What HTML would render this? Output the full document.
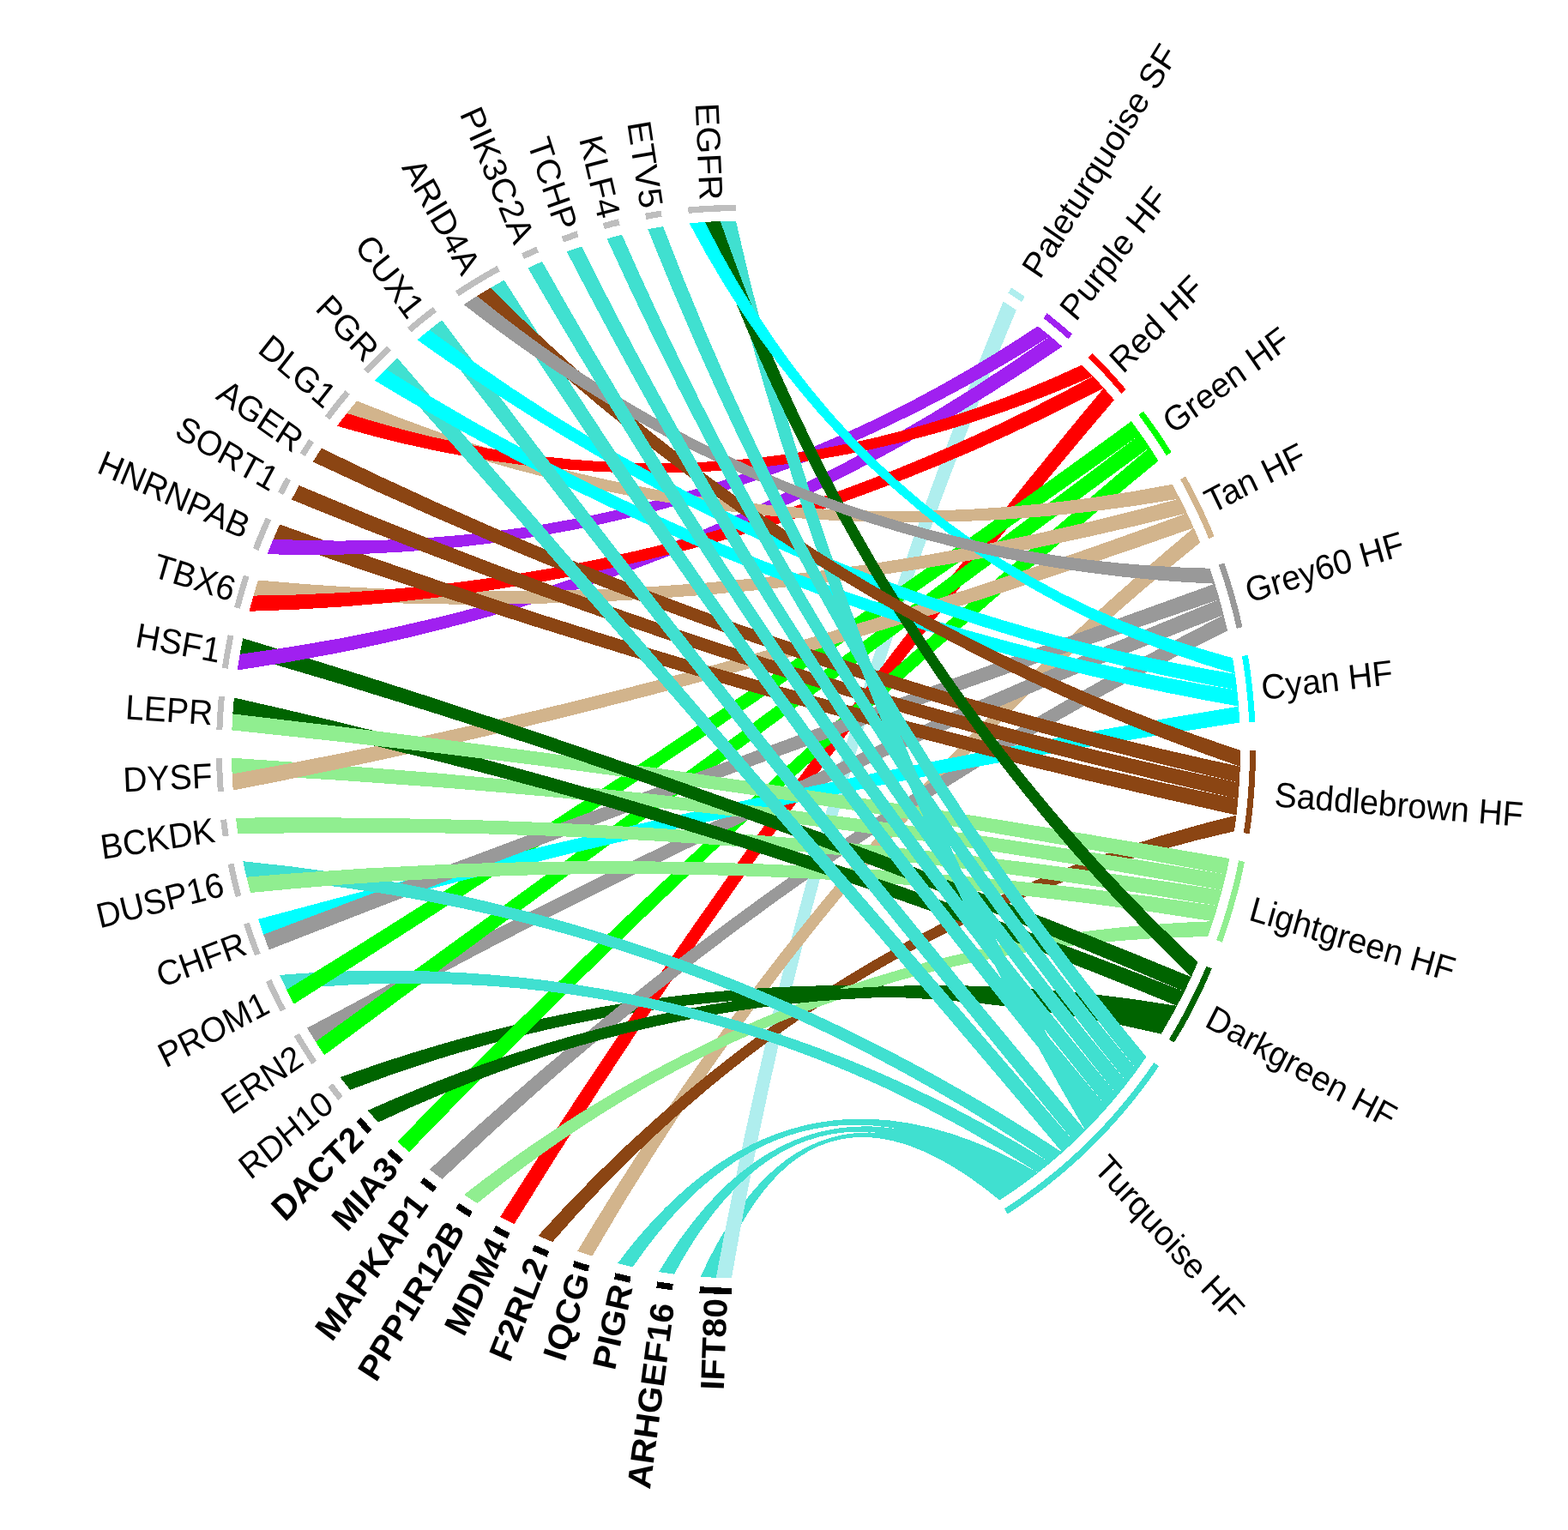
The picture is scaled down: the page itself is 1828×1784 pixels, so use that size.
<!DOCTYPE html>
<html><head><meta charset="utf-8"><title>Chord diagram</title>
<style>html,body{margin:0;padding:0;background:#fff}svg{display:block}text{font-family:"Liberation Sans",Arial,Helvetica,sans-serif;font-size:39px;fill:#000}.b{font-weight:bold}</style></head><body>
<svg xmlns="http://www.w3.org/2000/svg" width="1828" height="1784" viewBox="0 0 1828 1784">
<rect width="1828" height="1784" fill="#fff"/>
<g shape-rendering="crispEdges" stroke-width="0" stroke-linejoin="round">
<path d="M834.8,1489.7 Q943.2,1216.3 1165.2,1399.4 L1167.8,1397.8 L1170.4,1396.1 L1172.9,1394.4 L1175.5,1392.7 L1178.0,1391.0 L1180.5,1389.2 Q942.4,1213.0 816.7,1488.7 L819.7,1488.9 L822.7,1489.1 L825.7,1489.3 L828.7,1489.5 L831.7,1489.6 L834.8,1489.7Z" fill="#40E0D0" stroke="#40E0D0"/>
<path d="M852.9,1490.2 Q954.5,905.2 1184.8,361.7 L1182.3,360.0 L1179.8,358.2 L1177.2,356.5 L1174.7,354.8 L1172.1,353.1 L1169.6,351.4 Q944.5,901.9 834.8,1489.7 L837.8,1489.9 L840.8,1490.0 L843.8,1490.0 L846.8,1490.1 L849.8,1490.2 L852.9,1490.2Z" fill="#AFEEEE" stroke="#AFEEEE"/>
<path d="M786.0,1485.6 Q933.2,1212.1 1180.5,1389.2 L1183.0,1387.5 L1185.6,1385.8 L1188.1,1384.0 L1190.6,1382.2 L1193.0,1380.4 L1195.5,1378.6 Q932.3,1208.1 768.1,1483.0 L771.1,1483.5 L774.1,1483.9 L777.0,1484.4 L780.0,1484.8 L783.0,1485.2 L786.0,1485.6Z" fill="#40E0D0" stroke="#40E0D0"/>
<path d="M737.8,1477.2 Q923.2,1206.3 1195.5,1378.6 L1198.0,1376.8 L1200.4,1374.9 L1202.9,1373.1 L1205.3,1371.2 L1207.8,1369.3 L1210.2,1367.5 Q922.3,1201.7 720.1,1473.0 L723.1,1473.8 L726.0,1474.5 L728.9,1475.2 L731.9,1475.9 L734.8,1476.6 L737.8,1477.2Z" fill="#40E0D0" stroke="#40E0D0"/>
<path d="M690.4,1464.7 Q970.0,978.8 1399.1,632.7 L1397.9,629.8 L1396.7,626.9 L1395.4,624.0 L1394.2,621.1 L1393.0,618.2 L1391.7,615.4 Q962.6,971.9 673.1,1459.0 L676.0,1460.0 L678.9,1460.9 L681.7,1461.9 L684.6,1462.8 L687.5,1463.8 L690.4,1464.7Z" fill="#D2B48C" stroke="#D2B48C"/>
<path d="M644.2,1448.0 Q968.1,1074.8 1438.9,969.3 L1439.4,966.2 L1439.8,963.1 L1440.3,959.9 L1440.7,956.8 L1441.1,953.7 L1441.4,950.5 Q963.8,1067.0 627.4,1440.9 L630.2,1442.1 L632.9,1443.3 L635.7,1444.5 L638.5,1445.7 L641.3,1446.9 L644.2,1448.0Z" fill="#8B4513" stroke="#8B4513"/>
<path d="M408.1,1270.8 Q871.7,1092.5 1353.6,1205.6 L1355.3,1202.9 L1356.9,1200.2 L1358.4,1197.5 L1360.0,1194.8 L1361.6,1192.1 L1363.1,1189.4 Q871.1,1083.2 396.7,1256.1 L398.5,1258.5 L400.4,1261.0 L402.3,1263.5 L404.2,1265.9 L406.2,1268.3 L408.1,1270.8Z" fill="#006400" stroke="#006400"/>
<path d="M599.4,1427.4 Q912.7,917.8 1299.0,466.4 L1297.0,464.0 L1295.0,461.7 L1293.0,459.3 L1290.9,457.0 L1288.9,454.7 L1286.8,452.4 Q904.2,911.0 583.2,1418.8 L585.9,1420.3 L588.6,1421.7 L591.3,1423.2 L594.0,1424.6 L596.7,1426.0 L599.4,1427.4Z" fill="#FF0000" stroke="#FF0000"/>
<path d="M556.4,1403.0 Q932.5,1098.1 1408.0,1092.1 L1409.0,1089.1 L1410.1,1086.1 L1411.1,1083.2 L1412.1,1080.2 L1413.1,1077.2 L1414.1,1074.2 Q929.7,1089.8 541.0,1393.0 L543.6,1394.7 L546.1,1396.4 L548.7,1398.1 L551.2,1399.7 L553.8,1401.4 L556.4,1403.0Z" fill="#90EE90" stroke="#90EE90"/>
<path d="M515.5,1374.9 Q927.1,982.7 1431.0,735.5 L1430.3,732.4 L1429.6,729.3 L1428.8,726.3 L1428.1,723.2 L1427.4,720.1 L1426.6,717.1 Q921.5,973.8 501.0,1363.6 L503.4,1365.5 L505.8,1367.4 L508.2,1369.3 L510.6,1371.2 L513.1,1373.1 L515.5,1374.9Z" fill="#999999" stroke="#999999"/>
<path d="M477.0,1343.4 Q891.5,913.8 1350.5,537.4 L1348.9,534.7 L1347.2,532.1 L1345.5,529.5 L1343.8,526.8 L1342.1,524.2 L1340.4,521.6 Q884.3,905.3 463.4,1330.8 L465.6,1333.0 L467.9,1335.1 L470.1,1337.2 L472.4,1339.2 L474.7,1341.3 L477.0,1343.4Z" fill="#00FF00" stroke="#00FF00"/>
<path d="M441.1,1308.6 Q884.5,1099.0 1363.1,1189.4 L1364.7,1186.7 L1366.2,1183.9 L1367.7,1181.2 L1369.2,1178.5 L1370.7,1175.7 L1372.2,1172.9 Q883.4,1090.0 428.5,1294.9 L430.6,1297.2 L432.7,1299.5 L434.8,1301.8 L436.9,1304.1 L439.0,1306.3 L441.1,1308.6Z" fill="#006400" stroke="#006400"/>
<path d="M368.0,1214.6 Q881.6,929.1 1426.6,717.1 L1425.8,714.0 L1425.0,710.9 L1424.2,707.9 L1423.4,704.8 L1422.6,701.8 L1421.7,698.8 Q877.2,918.8 358.2,1198.6 L359.8,1201.3 L361.4,1204.0 L363.0,1206.6 L364.7,1209.3 L366.3,1211.9 L368.0,1214.6Z" fill="#999999" stroke="#999999"/>
<path d="M378.2,1230.2 Q858.8,875.2 1340.4,521.6 L1338.6,519.0 L1336.9,516.5 L1335.1,513.9 L1333.4,511.3 L1331.6,508.8 L1329.8,506.2 Q852.5,865.8 368.0,1214.6 L369.6,1217.2 L371.3,1219.8 L373.0,1222.4 L374.7,1225.1 L376.5,1227.6 L378.2,1230.2Z" fill="#00FF00" stroke="#00FF00"/>
<path d="M334.2,1154.0 Q806.5,1106.0 1210.2,1367.5 L1212.6,1365.6 L1215.0,1363.6 L1217.4,1361.7 L1219.8,1359.8 L1222.2,1357.8 L1224.5,1355.9 Q808.4,1097.4 326.2,1136.9 L327.5,1139.8 L328.8,1142.6 L330.1,1145.5 L331.5,1148.3 L332.8,1151.1 L334.2,1154.0Z" fill="#40E0D0" stroke="#40E0D0"/>
<path d="M342.7,1170.7 Q844.9,852.7 1329.8,506.2 L1328.0,503.7 L1326.2,501.2 L1324.3,498.6 L1322.5,496.1 L1320.6,493.6 L1318.8,491.2 Q839.1,843.1 334.2,1154.0 L335.6,1156.8 L337.0,1159.6 L338.4,1162.4 L339.8,1165.2 L341.2,1168.0 L342.7,1170.7Z" fill="#00FF00" stroke="#00FF00"/>
<path d="M307.2,1089.7 Q868.9,929.3 1445.2,842.5 L1445.1,839.4 L1444.9,836.2 L1444.7,833.0 L1444.5,829.9 L1444.3,826.7 L1444.0,823.6 Q866.7,918.2 301.1,1071.8 L302.1,1074.8 L303.1,1077.8 L304.1,1080.8 L305.1,1083.8 L306.2,1086.7 L307.2,1089.7Z" fill="#00FFFF" stroke="#00FFFF"/>
<path d="M313.8,1107.4 Q863.9,891.4 1421.7,698.8 L1420.9,695.7 L1420.0,692.7 L1419.1,689.7 L1418.2,686.7 L1417.2,683.7 L1416.3,680.7 Q860.3,880.7 307.2,1089.7 L308.3,1092.7 L309.3,1095.6 L310.4,1098.6 L311.5,1101.5 L312.7,1104.5 L313.8,1107.4Z" fill="#999999" stroke="#999999"/>
<path d="M287.4,1022.7 Q796.8,1063.2 1224.5,1355.9 L1226.9,1353.9 L1229.2,1351.9 L1231.6,1349.9 L1233.9,1347.9 L1236.2,1345.8 L1238.5,1343.8 Q799.7,1054.0 283.3,1004.2 L283.9,1007.3 L284.6,1010.3 L285.2,1013.4 L285.9,1016.5 L286.6,1019.6 L287.4,1022.7Z" fill="#40E0D0" stroke="#40E0D0"/>
<path d="M292.0,1041.0 Q855.0,984.2 1414.1,1074.2 L1415.1,1071.2 L1416.0,1068.2 L1417.0,1065.2 L1417.9,1062.2 L1418.8,1059.2 L1419.7,1056.2 Q855.3,973.2 287.4,1022.7 L288.1,1025.7 L288.9,1028.8 L289.6,1031.8 L290.4,1034.9 L291.2,1038.0 L292.0,1041.0Z" fill="#90EE90" stroke="#90EE90"/>
<path d="M277.6,972.5 Q852.4,958.2 1419.7,1056.2 L1420.6,1053.1 L1421.5,1050.1 L1422.3,1047.1 L1423.2,1044.0 L1424.0,1041.0 L1424.8,1037.9 Q853.1,947.1 274.9,953.7 L275.3,956.8 L275.7,959.9 L276.2,963.1 L276.6,966.2 L277.1,969.3 L277.6,972.5Z" fill="#90EE90" stroke="#90EE90"/>
<path d="M270.6,902.6 Q851.8,931.8 1424.8,1037.9 L1425.6,1034.9 L1426.4,1031.8 L1427.2,1028.8 L1427.9,1025.7 L1428.6,1022.6 L1429.4,1019.6 Q853.0,920.6 270.1,883.7 L270.1,886.8 L270.2,890.0 L270.3,893.1 L270.4,896.3 L270.5,899.5 L270.6,902.6Z" fill="#90EE90" stroke="#90EE90"/>
<path d="M271.8,921.6 Q842.2,810.7 1391.7,615.4 L1390.4,612.5 L1389.1,609.6 L1387.8,606.8 L1386.5,603.9 L1385.2,601.1 L1383.8,598.3 Q839.5,799.9 270.6,902.6 L270.8,905.8 L270.9,909.0 L271.1,912.1 L271.3,915.3 L271.5,918.4 L271.8,921.6Z" fill="#D2B48C" stroke="#D2B48C"/>
<path d="M271.3,832.4 Q836.3,951.2 1372.2,1172.9 L1373.6,1170.2 L1375.1,1167.4 L1376.5,1164.6 L1377.9,1161.8 L1379.3,1159.0 L1380.7,1156.2 Q839.3,940.5 272.8,813.5 L272.6,816.7 L272.3,819.8 L272.0,823.0 L271.8,826.1 L271.6,829.3 L271.3,832.4Z" fill="#006400" stroke="#006400"/>
<path d="M270.4,851.4 Q853.1,910.9 1429.4,1019.6 L1430.1,1016.5 L1430.8,1013.4 L1431.4,1010.3 L1432.1,1007.2 L1432.7,1004.1 L1433.4,1001.0 Q854.6,899.6 271.3,832.4 L271.1,835.6 L271.0,838.8 L270.8,841.9 L270.6,845.1 L270.5,848.2 L270.4,851.4Z" fill="#90EE90" stroke="#90EE90"/>
<path d="M279.7,762.8 Q841.3,925.3 1380.7,1156.2 L1382.1,1153.4 L1383.5,1150.6 L1384.8,1147.7 L1386.1,1144.9 L1387.5,1142.0 L1388.8,1139.2 Q844.8,914.6 283.2,744.2 L282.6,747.3 L282.0,750.4 L281.4,753.5 L280.8,756.6 L280.2,759.7 L279.7,762.8Z" fill="#006400" stroke="#006400"/>
<path d="M276.7,781.5 Q797.7,705.3 1238.3,404.0 L1236.0,402.0 L1233.7,399.9 L1231.3,397.9 L1229.0,395.9 L1226.6,393.9 L1224.3,391.9 Q794.4,696.0 279.7,762.8 L279.1,765.9 L278.6,769.0 L278.1,772.1 L277.6,775.3 L277.1,778.4 L276.7,781.5Z" fill="#A020F0" stroke="#A020F0"/>
<path d="M295.5,694.6 Q847.0,737.4 1383.8,598.3 L1382.5,595.4 L1381.1,592.6 L1379.7,589.8 L1378.3,587.0 L1376.9,584.2 L1375.5,581.4 Q846.2,727.0 301.0,676.5 L300.1,679.5 L299.1,682.5 L298.2,685.5 L297.3,688.5 L296.4,691.5 L295.5,694.6Z" fill="#D2B48C" stroke="#D2B48C"/>
<path d="M290.5,712.8 Q816.4,699.2 1286.8,452.4 L1284.7,450.1 L1282.7,447.8 L1280.6,445.5 L1278.5,443.2 L1276.4,441.0 L1274.2,438.7 Q814.1,689.6 295.5,694.6 L294.6,697.6 L293.8,700.6 L292.9,703.7 L292.1,706.7 L291.3,709.8 L290.5,712.8Z" fill="#FF0000" stroke="#FF0000"/>
<path d="M318.6,628.7 Q871.2,823.4 1441.4,950.5 L1441.8,947.4 L1442.2,944.2 L1442.5,941.1 L1442.8,937.9 L1443.1,934.8 L1443.4,931.6 Q874.0,812.5 326.1,611.4 L324.8,614.3 L323.5,617.1 L322.3,620.0 L321.0,622.9 L319.8,625.8 L318.6,628.7Z" fill="#8B4513" stroke="#8B4513"/>
<path d="M311.6,646.2 Q804.0,661.0 1224.3,391.9 L1221.9,390.0 L1219.5,388.0 L1217.2,386.1 L1214.8,384.2 L1212.4,382.2 L1209.9,380.3 Q801.8,652.3 318.6,628.7 L317.4,631.6 L316.2,634.5 L315.1,637.4 L313.9,640.3 L312.8,643.3 L311.6,646.2Z" fill="#A020F0" stroke="#A020F0"/>
<path d="M339.9,582.6 Q878.2,803.9 1443.4,931.6 L1443.7,928.5 L1444.0,925.3 L1444.2,922.2 L1444.4,919.0 L1444.6,915.9 L1444.8,912.7 Q881.3,793.2 348.7,566.0 L347.2,568.7 L345.7,571.5 L344.3,574.2 L342.8,577.0 L341.3,579.8 L339.9,582.6Z" fill="#8B4513" stroke="#8B4513"/>
<path d="M364.8,538.5 Q886.1,785.0 1444.8,912.7 L1445.0,909.6 L1445.2,906.4 L1445.3,903.2 L1445.5,900.1 L1445.6,896.9 L1445.7,893.8 Q889.4,774.5 374.9,522.7 L373.2,525.3 L371.5,527.9 L369.8,530.6 L368.1,533.2 L366.5,535.8 L364.8,538.5Z" fill="#8B4513" stroke="#8B4513"/>
<path d="M404.4,481.9 Q877.2,668.6 1375.5,581.4 L1374.1,578.6 L1372.6,575.9 L1371.1,573.1 L1369.6,570.3 L1368.2,567.6 L1366.6,564.8 Q878.0,659.3 416.2,467.4 L414.2,469.8 L412.2,472.2 L410.2,474.6 L408.3,477.0 L406.3,479.4 L404.4,481.9Z" fill="#D2B48C" stroke="#D2B48C"/>
<path d="M393.1,496.7 Q843.4,630.2 1274.2,438.7 L1272.1,436.5 L1269.9,434.3 L1267.8,432.1 L1265.6,429.9 L1263.4,427.7 L1261.2,425.5 Q842.9,621.8 404.4,481.9 L402.5,484.3 L400.6,486.8 L398.7,489.2 L396.8,491.7 L395.0,494.2 L393.1,496.7Z" fill="#FF0000" stroke="#FF0000"/>
<path d="M449.9,430.3 Q849.7,881.8 1238.5,1343.8 L1240.8,1341.7 L1243.1,1339.7 L1245.4,1337.6 L1247.6,1335.5 L1249.9,1333.4 L1252.1,1331.3 Q857.8,874.2 463.2,417.4 L460.9,419.5 L458.7,421.7 L456.5,423.8 L454.3,426.0 L452.1,428.2 L449.9,430.3Z" fill="#40E0D0" stroke="#40E0D0"/>
<path d="M437.1,443.7 Q907.5,729.8 1444.0,823.6 L1443.8,820.4 L1443.5,817.3 L1443.2,814.1 L1442.9,811.0 L1442.6,807.8 L1442.3,804.7 Q910.9,720.1 449.9,430.3 L447.7,432.5 L445.6,434.8 L443.4,437.0 L441.3,439.2 L439.2,441.5 L437.1,443.7Z" fill="#00FFFF" stroke="#00FFFF"/>
<path d="M500.7,384.6 Q869.1,864.4 1252.1,1331.3 L1254.4,1329.2 L1256.6,1327.0 L1258.8,1324.9 L1261.0,1322.7 L1263.2,1320.5 L1265.4,1318.3 Q877.4,857.1 515.3,373.3 L512.8,375.1 L510.4,377.0 L507.9,378.9 L505.5,380.8 L503.1,382.7 L500.7,384.6Z" fill="#40E0D0" stroke="#40E0D0"/>
<path d="M486.5,396.3 Q921.8,709.9 1442.3,804.7 L1441.9,801.5 L1441.6,798.4 L1441.2,795.3 L1440.8,792.1 L1440.4,789.0 L1440.0,785.8 Q925.4,700.7 500.7,384.6 L498.3,386.5 L495.9,388.5 L493.6,390.4 L491.2,392.4 L488.8,394.4 L486.5,396.3Z" fill="#00FFFF" stroke="#00FFFF"/>
<path d="M839.9,258.1 Q974.8,822.5 1265.4,1318.3 L1267.6,1316.1 L1269.7,1313.9 L1271.9,1311.7 L1274.0,1309.5 L1276.2,1307.2 L1278.3,1305.0 Q984.1,818.4 858.0,257.8 L855.0,257.8 L852.0,257.8 L848.9,257.8 L845.9,257.9 L842.9,258.0 L839.9,258.1Z" fill="#40E0D0" stroke="#40E0D0"/>
<path d="M821.8,258.9 Q1006.4,769.0 1388.8,1139.2 L1390.1,1136.3 L1391.3,1133.5 L1392.6,1130.6 L1393.9,1127.7 L1395.1,1124.8 L1396.3,1121.9 Q1014.1,763.6 839.9,258.1 L836.9,258.2 L833.9,258.3 L830.8,258.4 L827.8,258.6 L824.8,258.8 L821.8,258.9Z" fill="#006400" stroke="#006400"/>
<path d="M803.7,260.4 Q1016.3,663.5 1440.0,785.8 L1439.5,782.7 L1439.1,779.6 L1438.6,776.5 L1438.1,773.3 L1437.6,770.2 L1437.1,767.1 Q1020.9,657.4 821.8,258.9 L818.8,259.1 L815.8,259.4 L812.8,259.6 L809.7,259.9 L806.7,260.1 L803.7,260.4Z" fill="#00FFFF" stroke="#00FFFF"/>
<path d="M571.8,335.7 Q898.2,841.8 1278.3,1305.0 L1280.4,1302.7 L1282.5,1300.4 L1284.6,1298.1 L1286.6,1295.8 L1288.7,1293.5 L1290.7,1291.2 Q906.8,835.0 587.8,326.7 L585.1,328.2 L582.4,329.6 L579.8,331.1 L577.1,332.6 L574.5,334.1 L571.8,335.7Z" fill="#40E0D0" stroke="#40E0D0"/>
<path d="M556.1,345.2 Q943.8,721.3 1445.7,893.8 L1445.8,890.6 L1445.9,887.4 L1445.9,884.3 L1446.0,881.1 L1446.0,877.9 L1446.0,874.8 Q948.5,712.7 571.8,335.7 L569.2,337.2 L566.6,338.8 L564.0,340.4 L561.3,342.0 L558.7,343.6 L556.1,345.2Z" fill="#8B4513" stroke="#8B4513"/>
<path d="M540.7,355.2 Q930.3,660.3 1416.3,680.7 L1415.4,677.7 L1414.4,674.7 L1413.4,671.7 L1412.4,668.7 L1411.4,665.7 L1410.4,662.7 Q933.2,652.0 556.1,345.2 L553.6,346.8 L551.0,348.4 L548.4,350.1 L545.8,351.8 L543.3,353.5 L540.7,355.2Z" fill="#999999" stroke="#999999"/>
<path d="M615.5,312.6 Q915.1,830.7 1290.7,1291.2 L1292.8,1288.9 L1294.8,1286.5 L1296.8,1284.2 L1298.8,1281.8 L1300.8,1279.4 L1302.8,1277.0 Q923.7,824.2 632.1,305.1 L629.3,306.3 L626.5,307.5 L623.8,308.8 L621.0,310.0 L618.2,311.3 L615.5,312.6Z" fill="#40E0D0" stroke="#40E0D0"/>
<path d="M660.8,293.5 Q932.3,820.7 1302.8,1277.0 L1304.8,1274.6 L1306.7,1272.2 L1308.7,1269.8 L1310.6,1267.4 L1312.5,1264.9 L1314.4,1262.5 Q940.9,814.6 678.0,287.4 L675.1,288.3 L672.3,289.3 L669.4,290.3 L666.5,291.4 L663.7,292.4 L660.8,293.5Z" fill="#40E0D0" stroke="#40E0D0"/>
<path d="M707.5,278.3 Q949.8,811.8 1314.4,1262.5 L1316.3,1260.0 L1318.2,1257.6 L1320.1,1255.1 L1322.0,1252.6 L1323.8,1250.1 L1325.6,1247.6 Q958.4,806.0 725.1,273.7 L722.2,274.4 L719.2,275.2 L716.3,275.9 L713.4,276.7 L710.5,277.5 L707.5,278.3Z" fill="#40E0D0" stroke="#40E0D0"/>
<path d="M755.3,267.3 Q967.5,804.0 1325.6,1247.6 L1327.5,1245.0 L1329.3,1242.5 L1331.1,1240.0 L1332.9,1237.4 L1334.6,1234.9 L1336.4,1232.3 Q976.1,798.6 773.2,264.2 L770.2,264.7 L767.2,265.2 L764.2,265.7 L761.2,266.2 L758.3,266.7 L755.3,267.3Z" fill="#40E0D0" stroke="#40E0D0"/>
<path d="M1179.1,335.4 L1187.0,340.7 L1194.8,346.0 L1190.9,352.1 L1183.2,346.8 L1175.4,341.6Z" fill="#AFEEEE" stroke="none"/>
<path d="M1220.7,365.2 L1228.1,371.2 L1235.5,377.2 L1242.8,383.3 L1249.9,389.6 L1245.4,395.2 L1238.3,389.0 L1231.1,382.9 L1223.9,377.0 L1216.5,371.1Z" fill="#A020F0" stroke="none"/>
<path d="M1273.6,411.8 L1280.3,418.5 L1287.0,425.4 L1293.5,432.4 L1299.9,439.5 L1306.3,446.7 L1312.5,453.9 L1307.3,458.8 L1301.1,451.6 L1294.8,444.5 L1288.5,437.5 L1282.0,430.6 L1275.4,423.8 L1268.8,417.1Z" fill="#FF0000" stroke="none"/>
<path d="M1332.9,479.4 L1338.6,487.2 L1344.2,495.0 L1349.8,502.9 L1355.1,510.8 L1360.4,518.9 L1365.6,527.1 L1359.7,531.1 L1354.6,523.0 L1349.4,515.0 L1344.1,507.1 L1338.6,499.3 L1333.1,491.6 L1327.4,484.0Z" fill="#00FF00" stroke="none"/>
<path d="M1382.2,555.4 L1386.8,563.9 L1391.3,572.5 L1395.7,581.1 L1399.9,589.8 L1404.1,598.6 L1408.0,607.4 L1411.9,616.4 L1415.6,625.3 L1409.2,628.2 L1405.5,619.3 L1401.7,610.5 L1397.7,601.8 L1393.7,593.1 L1389.5,584.5 L1385.2,575.9 L1380.7,567.5 L1376.2,559.1Z" fill="#D2B48C" stroke="none"/>
<path d="M1427.3,656.3 L1430.4,665.5 L1433.4,674.7 L1436.3,684.1 L1439.0,693.4 L1441.6,702.8 L1444.0,712.3 L1446.3,721.7 L1448.5,731.2 L1441.7,732.9 L1439.5,723.5 L1437.2,714.1 L1434.8,704.8 L1432.3,695.5 L1429.6,686.2 L1426.8,677.0 L1423.8,667.9 L1420.7,658.8Z" fill="#999999" stroke="none"/>
<path d="M1454.8,763.8 L1456.4,773.5 L1457.8,783.1 L1459.0,792.8 L1460.2,802.6 L1461.1,812.3 L1462.0,822.0 L1462.7,831.8 L1463.2,841.6 L1456.2,841.9 L1455.7,832.3 L1455.0,822.6 L1454.2,813.0 L1453.2,803.4 L1452.1,793.8 L1450.8,784.2 L1449.4,774.6 L1447.9,765.1Z" fill="#00FFFF" stroke="none"/>
<path d="M1464.0,874.8 L1463.9,885.7 L1463.6,896.5 L1463.2,907.4 L1462.5,918.2 L1461.7,929.1 L1460.7,939.9 L1459.6,950.7 L1458.2,961.5 L1456.7,972.2 L1449.8,971.1 L1451.3,960.5 L1452.6,949.8 L1453.8,939.1 L1454.7,928.4 L1455.5,917.7 L1456.2,907.0 L1456.6,896.3 L1456.9,885.5 L1457.0,874.8Z" fill="#8B4513" stroke="none"/>
<path d="M1451.0,1004.9 L1448.8,1015.6 L1446.4,1026.1 L1443.8,1036.7 L1441.0,1047.1 L1438.1,1057.6 L1435.0,1068.0 L1431.8,1078.3 L1428.4,1088.5 L1424.8,1098.7 L1418.2,1096.1 L1421.8,1086.1 L1425.2,1075.9 L1428.4,1065.7 L1431.4,1055.5 L1434.3,1045.1 L1437.0,1034.8 L1439.6,1024.4 L1441.9,1013.9 L1444.1,1003.4Z" fill="#90EE90" stroke="none"/>
<path d="M1412.8,1129.5 L1408.5,1139.4 L1404.1,1149.3 L1399.5,1159.0 L1394.8,1168.7 L1389.9,1178.3 L1384.9,1187.8 L1379.7,1197.2 L1374.3,1206.5 L1368.8,1215.7 L1362.9,1211.8 L1368.3,1202.7 L1373.6,1193.5 L1378.8,1184.2 L1383.8,1174.8 L1388.6,1165.3 L1393.3,1155.7 L1397.8,1146.1 L1402.2,1136.4 L1406.4,1126.6Z" fill="#006400" stroke="none"/>
<path d="M1351.0,1243.3 L1344.8,1252.2 L1338.5,1261.0 L1332.0,1269.7 L1325.3,1278.3 L1318.5,1286.8 L1311.6,1295.1 L1304.5,1303.3 L1297.3,1311.4 L1290.0,1319.4 L1282.5,1327.2 L1274.9,1334.9 L1267.2,1342.4 L1259.4,1349.8 L1251.4,1357.1 L1243.3,1364.2 L1235.1,1371.1 L1226.8,1377.9 L1218.4,1384.6 L1209.8,1391.1 L1201.2,1397.4 L1192.4,1403.6 L1183.6,1409.6 L1174.6,1415.5 L1171.0,1409.2 L1179.8,1403.5 L1188.6,1397.5 L1197.2,1391.4 L1205.8,1385.1 L1214.2,1378.7 L1222.5,1372.1 L1230.8,1365.4 L1238.9,1358.5 L1246.9,1351.5 L1254.7,1344.3 L1262.5,1337.0 L1270.1,1329.6 L1277.6,1322.0 L1285.0,1314.2 L1292.3,1306.4 L1299.4,1298.4 L1306.4,1290.3 L1313.2,1282.0 L1319.9,1273.7 L1326.5,1265.2 L1332.9,1256.6 L1339.2,1247.8 L1345.3,1239.0Z" fill="#40E0D0" stroke="none"/>
<path d="M802.1,241.6 L811.4,240.8 L820.7,240.1 L830.0,239.6 L839.3,239.2 L848.7,239.0 L858.0,238.9 L858.0,246.2 L848.8,246.3 L839.5,246.5 L830.3,246.9 L821.1,247.4 L811.9,248.1 L802.7,248.9Z" fill="#BEBEBE" stroke="none"/>
<path d="M752.1,248.7 L761.3,247.0 L770.6,245.6 L771.6,252.8 L762.5,254.3 L753.4,255.9Z" fill="#BEBEBE" stroke="none"/>
<path d="M702.9,260.1 L712.0,257.6 L721.0,255.3 L722.6,262.5 L713.7,264.7 L704.7,267.1Z" fill="#BEBEBE" stroke="none"/>
<path d="M654.8,275.7 L663.6,272.5 L672.5,269.4 L674.6,276.4 L665.9,279.4 L657.1,282.6Z" fill="#BEBEBE" stroke="none"/>
<path d="M608.1,295.4 L616.6,291.5 L625.2,287.6 L627.9,294.4 L619.4,298.2 L611.0,302.1Z" fill="#BEBEBE" stroke="none"/>
<path d="M531.0,339.3 L538.9,334.1 L546.9,329.0 L555.0,324.0 L563.1,319.2 L571.3,314.5 L579.5,309.9 L582.7,316.5 L574.6,321.0 L566.5,325.6 L558.5,330.4 L550.5,335.3 L542.6,340.3 L534.8,345.5Z" fill="#BEBEBE" stroke="none"/>
<path d="M475.1,381.7 L482.4,375.6 L489.8,369.6 L497.2,363.7 L504.8,358.0 L508.9,363.9 L501.4,369.6 L494.0,375.4 L486.7,381.4 L479.5,387.4Z" fill="#BEBEBE" stroke="none"/>
<path d="M424.2,430.6 L430.8,423.6 L437.4,416.8 L444.2,410.0 L451.1,403.4 L455.8,408.8 L449.0,415.4 L442.3,422.0 L435.7,428.8 L429.2,435.7Z" fill="#BEBEBE" stroke="none"/>
<path d="M378.9,485.1 L384.6,477.5 L390.5,469.9 L396.5,462.4 L402.6,455.0 L407.9,459.8 L401.9,467.1 L395.9,474.5 L390.1,482.0 L384.4,489.6Z" fill="#BEBEBE" stroke="none"/>
<path d="M349.7,528.2 L354.9,520.0 L360.1,512.0 L365.9,516.1 L360.7,524.1 L355.6,532.2Z" fill="#BEBEBE" stroke="none"/>
<path d="M324.1,573.6 L328.5,565.1 L333.1,556.6 L339.2,560.2 L334.6,568.6 L330.2,577.1Z" fill="#BEBEBE" stroke="none"/>
<path d="M294.9,639.2 L298.4,630.2 L302.1,621.2 L305.9,612.2 L309.8,603.3 L316.1,606.5 L312.2,615.3 L308.5,624.1 L304.9,633.0 L301.4,642.0Z" fill="#BEBEBE" stroke="none"/>
<path d="M273.1,707.9 L275.6,698.5 L278.3,689.1 L281.0,679.7 L284.0,670.4 L290.6,672.8 L287.7,682.0 L285.0,691.2 L282.3,700.5 L279.9,709.8Z" fill="#BEBEBE" stroke="none"/>
<path d="M258.9,778.7 L260.3,769.0 L262.0,759.4 L263.7,749.8 L265.6,740.2 L272.4,741.7 L270.6,751.2 L268.8,760.7 L267.2,770.2 L265.8,779.8Z" fill="#BEBEBE" stroke="none"/>
<path d="M252.4,850.7 L252.8,840.9 L253.4,831.2 L254.1,821.4 L254.9,811.7 L261.9,812.4 L261.1,822.0 L260.4,831.7 L259.8,841.3 L259.4,851.0Z" fill="#BEBEBE" stroke="none"/>
<path d="M253.8,923.0 L253.2,913.3 L252.7,903.5 L252.3,893.7 L252.1,884.0 L259.1,883.8 L259.3,893.5 L259.6,903.2 L260.1,912.8 L260.8,922.5Z" fill="#BEBEBE" stroke="none"/>
<path d="M259.8,975.5 L258.4,965.8 L257.1,956.1 L264.0,955.2 L265.3,964.7 L266.7,974.3Z" fill="#BEBEBE" stroke="none"/>
<path d="M274.7,1046.1 L272.2,1036.7 L269.9,1027.2 L267.7,1017.7 L265.7,1008.1 L272.5,1006.6 L274.5,1016.0 L276.7,1025.4 L279.0,1034.8 L281.4,1044.1Z" fill="#BEBEBE" stroke="none"/>
<path d="M297.1,1114.5 L293.7,1105.4 L290.3,1096.3 L287.1,1087.1 L284.1,1077.9 L290.7,1075.5 L293.7,1084.7 L296.9,1093.7 L300.2,1102.8 L303.6,1111.7Z" fill="#BEBEBE" stroke="none"/>
<path d="M326.9,1179.8 L322.5,1171.2 L318.1,1162.5 L314.0,1153.8 L309.9,1145.0 L316.3,1141.8 L320.3,1150.5 L324.4,1159.2 L328.6,1167.8 L333.0,1176.3Z" fill="#BEBEBE" stroke="none"/>
<path d="M363.5,1241.1 L358.2,1233.1 L353.0,1225.0 L347.9,1216.8 L342.9,1208.5 L348.8,1204.7 L353.8,1212.8 L358.8,1220.9 L364.0,1229.0 L369.2,1236.9Z" fill="#BEBEBE" stroke="none"/>
<path d="M394.3,1282.9 L388.4,1275.4 L382.5,1267.8 L388.0,1263.2 L393.8,1270.7 L399.7,1278.2Z" fill="#BEBEBE" stroke="none"/>
<path d="M428.4,1321.9 L421.8,1314.9 L415.4,1307.8 L420.5,1302.8 L426.9,1309.8 L433.3,1316.7Z" fill="#000" stroke="none"/>
<path d="M465.3,1357.7 L458.3,1351.3 L451.3,1344.8 L456.0,1339.4 L462.9,1345.8 L469.9,1352.1Z" fill="#000" stroke="none"/>
<path d="M505.0,1390.2 L497.5,1384.5 L490.0,1378.6 L494.3,1372.8 L501.7,1378.6 L509.1,1384.3Z" fill="#000" stroke="none"/>
<path d="M547.2,1419.2 L539.2,1414.1 L531.3,1408.9 L535.1,1402.7 L542.9,1407.9 L550.8,1412.9Z" fill="#000" stroke="none"/>
<path d="M591.5,1444.4 L583.1,1440.0 L574.8,1435.5 L578.1,1429.0 L586.3,1433.5 L594.6,1437.8Z" fill="#000" stroke="none"/>
<path d="M637.6,1465.6 L628.9,1462.0 L620.3,1458.2 L623.1,1451.5 L631.6,1455.2 L640.2,1458.8Z" fill="#000" stroke="none"/>
<path d="M685.3,1482.7 L676.3,1479.9 L667.5,1476.9 L669.7,1469.9 L678.4,1472.9 L687.3,1475.7Z" fill="#000" stroke="none"/>
<path d="M734.1,1495.7 L725.0,1493.6 L715.9,1491.4 L717.5,1484.3 L726.5,1486.4 L735.5,1488.5Z" fill="#000" stroke="none"/>
<path d="M783.8,1504.3 L774.6,1503.0 L765.3,1501.6 L766.4,1494.4 L775.5,1495.8 L784.7,1497.0Z" fill="#000" stroke="none"/>
<path d="M852.7,1509.1 L843.4,1508.9 L834.0,1508.6 L824.7,1508.1 L815.4,1507.5 L815.9,1500.2 L825.1,1500.8 L834.3,1501.3 L843.5,1501.6 L852.8,1501.7Z" fill="#000" stroke="none"/>
</g>
<text transform="translate(858.0,874.0) scale(1,1.048) rotate(-57.12)" x="630.9" y="14.0">Paleturquoise SF</text>
<text transform="translate(858.0,874.0) scale(1,1.048) rotate(-51.47)" x="618.6" y="14.0">Purple HF</text>
<text transform="translate(858.0,874.0) scale(1,1.048) rotate(-44.06)" x="614.4" y="14.0">Red HF</text>
<text transform="translate(858.0,874.0) scale(1,1.048) rotate(-35.76)" x="618.1" y="14.0">Green HF</text>
<text transform="translate(858.0,874.0) scale(1,1.048) rotate(-26.58)" x="613.6" y="14.0">Tan HF</text>
<text transform="translate(858.0,874.0) scale(1,1.048) rotate(-16.52)" x="620.1" y="14.0">Grey60 HF</text>
<text transform="translate(858.0,874.0) scale(1,1.048) rotate(-6.46)" x="616.4" y="14.0">Cyan HF</text>
<text transform="translate(858.0,874.0) scale(1,1.048) rotate(4.48)" x="630.0" y="14.0">Saddlebrown HF</text>
<text transform="translate(858.0,874.0) scale(1,1.048) rotate(16.31)" x="625.7" y="14.0">Lightgreen HF</text>
<text transform="translate(858.0,874.0) scale(1,1.048) rotate(28.14)" x="625.5" y="14.0">Darkgreen HF</text>
<text transform="translate(858.0,874.0) scale(1,1.048) rotate(47.03)" x="624.5" y="14.0">Turquoise HF</text>
<text transform="translate(858.0,874.0) scale(1,1.048) rotate(447.35)" x="-611.8" y="14.0" text-anchor="end">EGFR</text>
<text transform="translate(858.0,874.0) scale(1,1.048) rotate(440.82)" x="-610.8" y="14.0" text-anchor="end">ETV5</text>
<text transform="translate(858.0,874.0) scale(1,1.048) rotate(436.06)" x="-610.3" y="14.0" text-anchor="end">KLF4</text>
<text transform="translate(858.0,874.0) scale(1,1.048) rotate(431.29)" x="-611.6" y="14.0" text-anchor="end">TCHP</text>
<text transform="translate(858.0,874.0) scale(1,1.048) rotate(426.53)" x="-617.0" y="14.0" text-anchor="end">PIK3C2A</text>
<text transform="translate(858.0,874.0) scale(1,1.048) rotate(419.99)" x="-615.1" y="14.0" text-anchor="end">ARID4A</text>
<text transform="translate(858.0,874.0) scale(1,1.048) rotate(412.58)" x="-611.4" y="14.0" text-anchor="end">CUX1</text>
<text transform="translate(858.0,874.0) scale(1,1.048) rotate(406.05)" x="-609.5" y="14.0" text-anchor="end">PGR</text>
<text transform="translate(858.0,874.0) scale(1,1.048) rotate(399.52)" x="-611.2" y="14.0" text-anchor="end">DLG1</text>
<text transform="translate(858.0,874.0) scale(1,1.048) rotate(393.87)" x="-612.1" y="14.0" text-anchor="end">AGER</text>
<text transform="translate(858.0,874.0) scale(1,1.048) rotate(389.11)" x="-613.9" y="14.0" text-anchor="end">SORT1</text>
<text transform="translate(858.0,874.0) scale(1,1.048) rotate(383.46)" x="-619.8" y="14.0" text-anchor="end">HNRNPAB</text>
<text transform="translate(858.0,874.0) scale(1,1.048) rotate(376.93)" x="-610.8" y="14.0" text-anchor="end">TBX6</text>
<text transform="translate(858.0,874.0) scale(1,1.048) rotate(370.40)" x="-611.0" y="14.0" text-anchor="end">HSF1</text>
<text transform="translate(858.0,874.0) scale(1,1.048) rotate(363.87)" x="-611.2" y="14.0" text-anchor="end">LEPR</text>
<text transform="translate(858.0,874.0) scale(1,1.048) rotate(357.34)" x="-611.4" y="14.0" text-anchor="end">DYSF</text>
<text transform="translate(858.0,874.0) scale(1,1.048) rotate(351.69)" x="-614.4" y="14.0" text-anchor="end">BCKDK</text>
<text transform="translate(858.0,874.0) scale(1,1.048) rotate(346.04)" x="-616.2" y="14.0" text-anchor="end">DUSP16</text>
<text transform="translate(858.0,874.0) scale(1,1.048) rotate(339.51)" x="-611.8" y="14.0" text-anchor="end">CHFR</text>
<text transform="translate(858.0,874.0) scale(1,1.048) rotate(332.98)" x="-614.9" y="14.0" text-anchor="end">PROM1</text>
<text transform="translate(858.0,874.0) scale(1,1.048) rotate(326.45)" x="-611.4" y="14.0" text-anchor="end">ERN2</text>
<text transform="translate(858.0,874.0) scale(1,1.048) rotate(320.80)" x="-613.8" y="14.0" text-anchor="end">RDH10</text>
<text transform="translate(858.0,874.0) scale(1,1.048) rotate(316.04)" x="-614.0" y="14.0" text-anchor="end" class="b">DACT2</text>
<text transform="translate(858.0,874.0) scale(1,1.048) rotate(311.27)" x="-610.3" y="14.0" text-anchor="end" class="b">MIA3</text>
<text transform="translate(858.0,874.0) scale(1,1.048) rotate(306.51)" x="-620.1" y="14.0" text-anchor="end" class="b">MAPKAP1</text>
<text transform="translate(858.0,874.0) scale(1,1.048) rotate(301.74)" x="-620.9" y="14.0" text-anchor="end" class="b">PPP1R12B</text>
<text transform="translate(858.0,874.0) scale(1,1.048) rotate(296.97)" x="-612.5" y="14.0" text-anchor="end" class="b">MDM4</text>
<text transform="translate(858.0,874.0) scale(1,1.048) rotate(292.21)" x="-612.9" y="14.0" text-anchor="end" class="b">F2RL2</text>
<text transform="translate(858.0,874.0) scale(1,1.048) rotate(287.44)" x="-611.0" y="14.0" text-anchor="end" class="b">IQCG</text>
<text transform="translate(858.0,874.0) scale(1,1.048) rotate(282.68)" x="-610.5" y="14.0" text-anchor="end" class="b">PIGR</text>
<text transform="translate(858.0,874.0) scale(1,1.048) rotate(277.91)" x="-621.8" y="14.0" text-anchor="end" class="b">ARHGEF16</text>
<text transform="translate(858.0,874.0) scale(1,1.048) rotate(272.27)" x="-611.2" y="14.0" text-anchor="end" class="b">IFT80</text>
</svg></body></html>
